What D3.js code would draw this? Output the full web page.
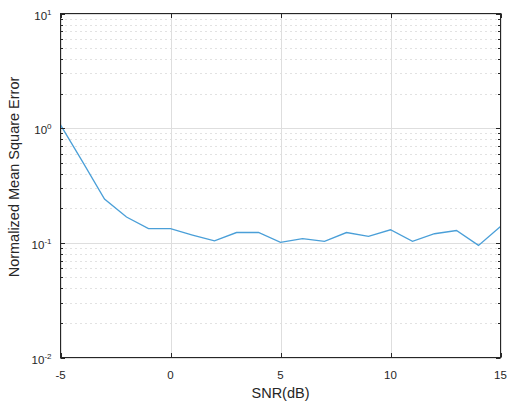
<!DOCTYPE html>
<html>
<head>
<meta charset="utf-8">
<script src="https://cdn.jsdelivr.net/npm/d3@7"></script>
<style>
  body { margin: 0; background: #fff; }
  text { font-family: "Liberation Sans", Arial, sans-serif; fill: #262626; }
</style>
</head>
<body>
<svg id="chart" width="510" height="412"></svg>
<script>
// SNR sweep and normalized MSE
const snr = [-5, -4, -3, -2, -1, 0, 1, 2, 3, 4, 5, 6, 7, 8, 9, 10, 11, 12, 13, 14, 15];
const nmse = [1.07, 0.51, 0.241, 0.168, 0.133, 0.133, 0.117, 0.104, 0.123, 0.123, 0.101,
              0.109, 0.103, 0.123, 0.114, 0.130, 0.103, 0.120, 0.128, 0.095, 0.139];
const xTicks = [-5, 0, 5, 10, 15];
const yDecades = [-2, -1, 0, 1];

const svg = d3.select('#chart');
const margin = { left: 60.5, right: 9.5, top: 13.5, bottom: 54.5 };
const width = 510, height = 412;

const x = d3.scaleLinear().domain([-5, 15]).range([margin.left, width - margin.right]);
const y = d3.scaleLog().domain([1e-2, 1e1]).range([height - margin.bottom, margin.top]);

const g = svg.append('g');

// minor grid (dotted) for log axis
const minors = [];
yDecades.slice(0, -1).forEach(p => {
    for (let k = 2; k <= 9; k++) minors.push(k * Math.pow(10, p));
});
g.selectAll('.minor').data(minors).enter().append('line')
    .attr('x1', x.range()[0]).attr('x2', x.range()[1])
    .attr('y1', d => Math.round(y(d)) + 0.5).attr('y2', d => Math.round(y(d)) + 0.5)
    .style('stroke', '#c4c4c4').style('stroke-width', 1)
    .style('stroke-dasharray', '1,4');

// major grid
g.selectAll('.majory').data(yDecades.map(p => Math.pow(10, p))).enter().append('line')
    .attr('x1', x.range()[0]).attr('x2', x.range()[1])
    .attr('y1', d => Math.round(y(d)) + 0.5).attr('y2', d => Math.round(y(d)) + 0.5)
    .style('stroke', '#dedede').style('stroke-width', 1);
g.selectAll('.majorx').data(xTicks).enter().append('line')
    .attr('x1', d => Math.round(x(d)) + 0.5).attr('x2', d => Math.round(x(d)) + 0.5)
    .attr('y1', y.range()[0]).attr('y2', y.range()[1])
    .style('stroke', '#dedede').style('stroke-width', 1);

// data line
const line = d3.line().x((d, i) => x(snr[i])).y(d => y(d));
g.append('path')
    .datum(nmse)
    .attr('d', line)
    .style('fill', 'none')
    .style('stroke', '#4a9fd8')
    .style('stroke-width', 1.3);

// ticks (inward, on all four sides)
const axisColor = '#262626';
const x0 = x.range()[0], x1 = x.range()[1], yb = y.range()[0], yt = y.range()[1];
const tickLen = 4.5, minorLen = 2.5;
xTicks.forEach(t => {
    const px = Math.round(x(t)) + 0.5;
    g.append('line').attr('x1', px).attr('x2', px).attr('y1', yb).attr('y2', yb - tickLen)
        .style('stroke', axisColor);
    g.append('line').attr('x1', px).attr('x2', px).attr('y1', yt).attr('y2', yt + tickLen)
        .style('stroke', axisColor);
});
yDecades.map(p => Math.pow(10, p)).concat(minors).forEach(v => {
    const py = Math.round(y(v)) + 0.5;
    const len = minors.includes(v) ? minorLen : tickLen;
    g.append('line').attr('x1', x0).attr('x2', x0 + len).attr('y1', py).attr('y2', py)
        .style('stroke', axisColor);
    g.append('line').attr('x1', x1).attr('x2', x1 - len).attr('y1', py).attr('y2', py)
        .style('stroke', axisColor);
});

// box
g.append('rect')
    .attr('x', x0).attr('y', yt)
    .attr('width', x1 - x0).attr('height', yb - yt)
    .style('fill', 'none').style('stroke', axisColor).style('stroke-width', 1);

// x tick labels
g.selectAll('.xl').data(xTicks).enter().append('text')
    .attr('x', d => x(d)).attr('y', yb + 21)
    .attr('text-anchor', 'middle')
    .style('font-size', '11.5px')
    .text(d => d);

// y tick labels: 10^p
yDecades.forEach(p => {
    const t = g.append('text')
        .attr('x', x0 - 9).attr('y', y(Math.pow(10, p)) + 6)
        .attr('text-anchor', 'end')
        .style('font-size', '11.5px');
    t.append('tspan').text('10');
    t.append('tspan').attr('dy', -5).style('font-size', '8px').text(p);
});

// axis labels
svg.append('text')
    .attr('x', (x0 + x1) / 2).attr('y', yb + 40)
    .attr('text-anchor', 'middle')
    .style('font-size', '14.5px')
    .text('SNR(dB)');

svg.append('text')
    .attr('transform', `translate(19, 177) rotate(-90)`)
    .attr('text-anchor', 'middle')
    .style('font-size', '14.5px')
    .text('Normalized Mean Square Error');
</script>
</body>
</html>
